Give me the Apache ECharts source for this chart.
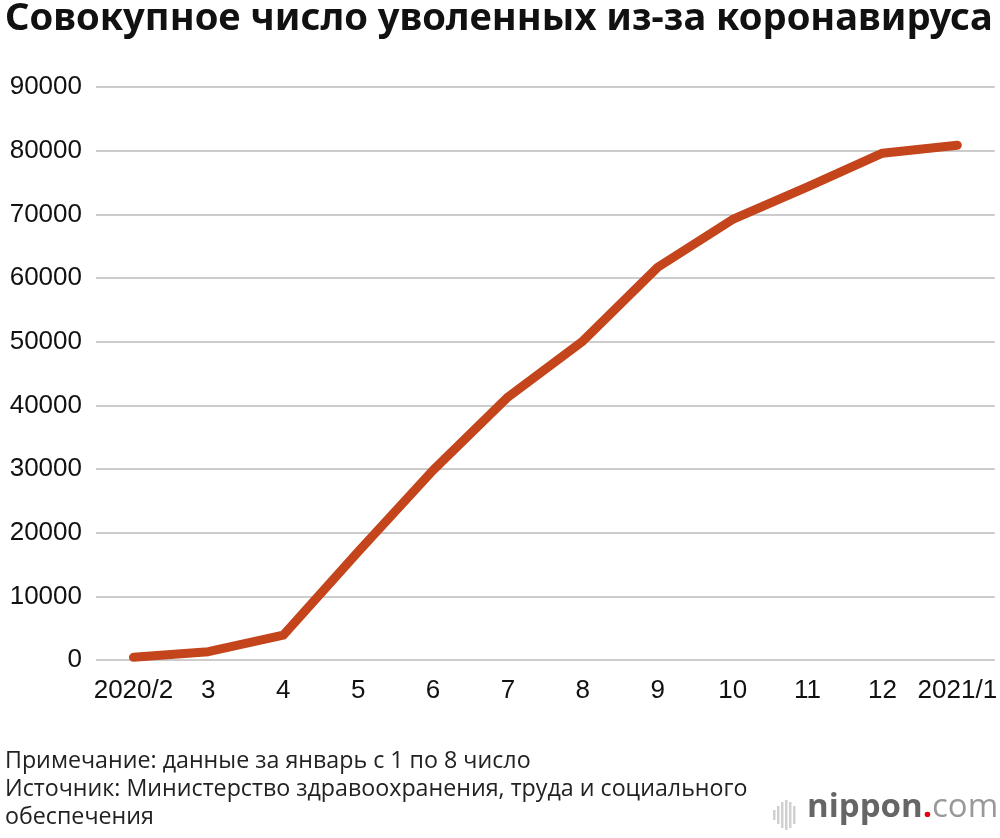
<!DOCTYPE html>
<html>
<head>
<meta charset="utf-8">
<script src="https://cdn.jsdelivr.net/npm/echarts@6/dist/echarts.min.js"></script>
<style>
html,body{margin:0;padding:0;background:#fff;}
#c{width:1000px;height:838px;}
</style>
</head>
<body>
<div id="c"></div>
<script>
const titleText = 'Совокупное число уволенных из-за коронавируса';
const categories = ['2020/2','3','4','5','6','7','8','9','10','11','12','2021/1'];
const dismissed = [420, 1300, 3900, 17000, 29800, 41300, 50100, 61700, 69200, 74300, 79600, 80850];
const noteLines = [
  'Примечание: данные за январь с 1 по 8 число',
  'Источник: Министерство здравоохранения, труда и социального',
  'обеспечения'
];

const chart = echarts.init(document.getElementById('c'), null, {renderer: 'canvas'});
const logoBars = [[0,10],[4,18],[8,26],[12,30],[16,26],[20,18]];
const graphic = [
  {type:'text', x: 5, y: 1, scaleX: 1.03, style:{text: titleText, font: 'bold 37px "Noto Sans"', fill:'#111'}},
];
noteLines.forEach((t,i)=>graphic.push({type:'text', x: 5, y: 750 + i*28, scaleX: 1.01, style:{text:t, font:'23px "Open Sans"', fill:'#222'}}));
logoBars.forEach(b=>graphic.push({type:'rect', shape:{x:773+b[0], y:815-b[1]/2, width:2.5, height:b[1]}, style:{fill:'#d0d0d0'}}));
graphic.push({type:'text', x: 807, y: 791, style:{rich:{a:{font:'bold 33px "Open Sans"', fill:'#666'}, b:{font:'bold 33px "Open Sans"', fill:'#e60012'}, c:{font:'33px "Open Sans"', fill:'#999'}}, text:'{a|nippon}{b|.}{c|com}'}});

chart.setOption({
  animation: false,
  backgroundColor: '#fff',
  graphic: graphic,
  grid: {left: 96, right: 3, top: 87, bottom: 178},
  xAxis: {
    type: 'category',
    data: categories,
    boundaryGap: true,
    axisLine: {show: false},
    axisTick: {show: false},
    axisLabel: {color:'#111', fontSize: 26, fontFamily: '"Liberation Sans", Arial', margin: 18, interval: 0}
  },
  yAxis: {
    type: 'value',
    min: 0, max: 90000, interval: 10000,
    axisLine: {show: false},
    axisTick: {show: false},
    splitLine: {lineStyle: {color: '#cccccc', width: 2}},
    axisLabel: {color:'#111', fontSize: 26, fontFamily: '"Liberation Sans", Arial', margin: 14, formatter: v => String(v)}
  },
  series: [{
    type: 'line',
    data: dismissed,
    symbol: 'none',
    lineStyle: {color: '#c4441b', width: 9, cap: 'round', join: 'round'}
  }]
});
</script>
</body>
</html>
